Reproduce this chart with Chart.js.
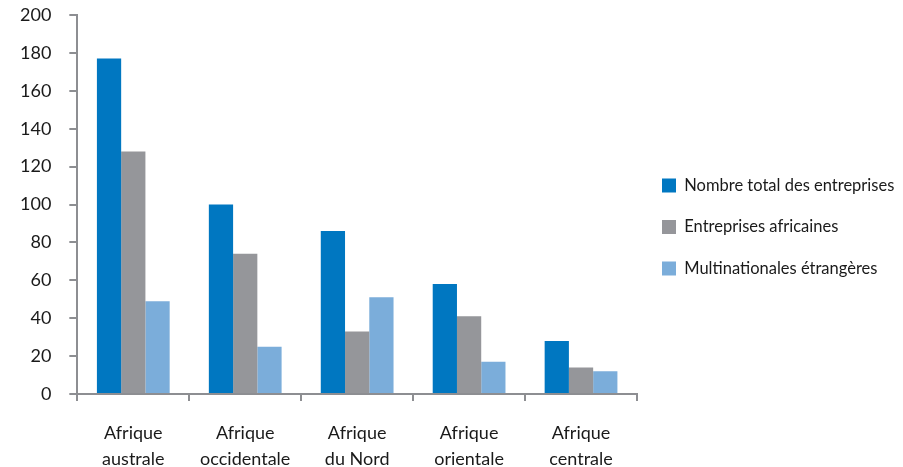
<!DOCTYPE html>
<html>
<head>
    <title>Entreprises par région</title>
    <script src="https://cdn.jsdelivr.net/npm/chart.js"></script>
    <style>
        html, body { margin: 0; padding: 0; background: #ffffff; }
        #wrap { width: 903px; height: 467px; position: relative; }
    </style>
</head>
<body>
    <div id="wrap"><canvas id="myChart"></canvas></div>
    <script>
        // categories (two lines each)
        const regions = [
            ['Afrique', 'australe'],
            ['Afrique', 'occidentale'],
            ['Afrique', 'du Nord'],
            ['Afrique', 'orientale'],
            ['Afrique', 'centrale']
        ];
        const seriesNames = ['Nombre total des entreprises', 'Entreprises africaines', 'Multinationales étrangères'];
        const totalEntreprises = [177, 100, 86, 58, 28];
        const entreprisesAfricaines = [128, 74, 33, 41, 14];
        const multinationales = [49, 25, 51, 17, 12];

        const axisGrey = '#8d8e92';
        const fontFam = "Lato, 'Open Sans', sans-serif";

        const config = {
            type: 'bar',
            data: {
                labels: regions,
                datasets: [
                    { label: seriesNames[0], data: totalEntreprises, backgroundColor: '#0077c1' },
                    { label: seriesNames[1], data: entreprisesAfricaines, backgroundColor: '#95969a' },
                    { label: seriesNames[2], data: multinationales, backgroundColor: '#7badda' }
                ]
            },
            options: {
                responsive: true,
                maintainAspectRatio: false,
                animation: false,
                // negative top only lifts the legend; the plot top comes from the y scale padding
                layout: { padding: { top: -37, left: 2, right: 0, bottom: -24 } },
                datasets: { bar: { categoryPercentage: 0.65, barPercentage: 1.0 } },
                scales: {
                    x: {
                        grid: { drawOnChartArea: false, drawTicks: true, tickLength: 7, color: axisGrey, lineWidth: 2, offset: true },
                        border: { color: axisGrey, width: 2 },
                        ticks: { color: '#1a1a1a', padding: 19, font: { family: fontFam, size: 18, lineHeight: '26px' }, maxRotation: 0 }
                    },
                    y: {
                        min: 0, max: 200,
                        grid: { drawOnChartArea: false, drawTicks: true, tickLength: 8, color: axisGrey, lineWidth: 2 },
                        border: { color: axisGrey, width: 2 },
                        ticks: { stepSize: 20, color: '#1a1a1a', padding: 18, font: { family: fontFam, size: 18 } },
                        afterFit: function (scale) {
                            scale.paddingTop = 15;
                            scale.paddingBottom = 0;
                        }
                    }
                },
                plugins: {
                    legend: {
                        position: 'right',
                        maxWidth: 266,
                        labels: {
                            boxWidth: 14, boxHeight: 14, padding: 25,
                            color: '#1a1a1a',
                            font: { family: fontFam, size: 16.5 }
                        }
                    },
                    tooltip: { enabled: false }
                }
            }
        };

        // wait for the local font so text is measured correctly
        document.fonts.load('17px Lato').then(function () {
            new Chart(document.getElementById('myChart'), config);
        });
    </script>
</body>
</html>
